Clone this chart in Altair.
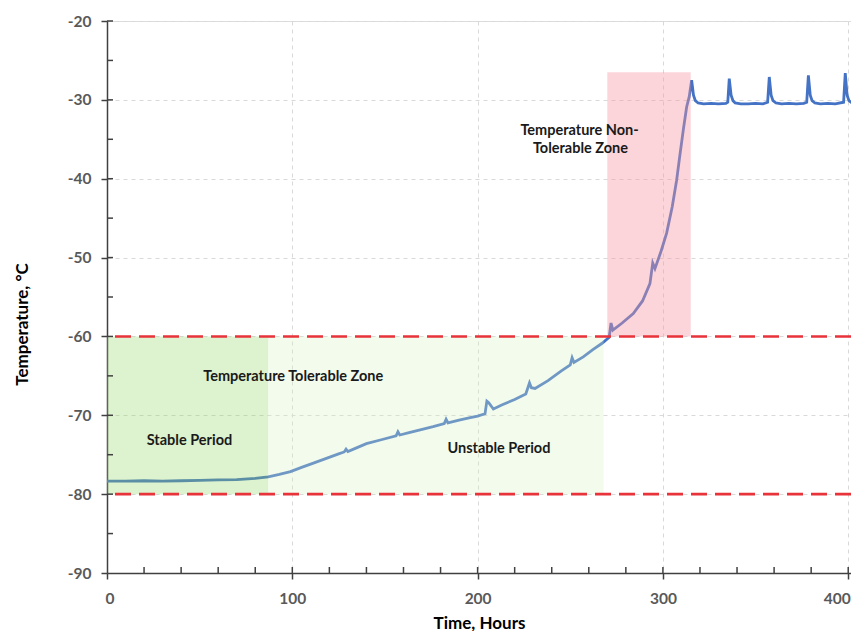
import altair as alt
import pandas as pd

# ---- data ----
hours = [0, 10, 20, 30, 40, 50, 60, 70, 80, 87, 93, 99, 105, 111, 118, 125, 128, 129, 130,
         134, 140, 148, 156, 157, 158, 163, 169, 176, 182, 183, 184, 190, 196, 200, 204, 205,
         206, 208.5, 213, 220, 226, 228, 229, 231, 238, 245, 250, 251, 252, 257, 262, 267,
         271, 272, 273, 278, 284, 289, 293, 294.5, 295.7, 299, 302, 305, 307.4, 309, 311,
         312.8, 314.2, 315.5, 316.5, 317.5, 319, 322, 326, 330, 334, 335, 335.8, 336.8,
         337.8, 339, 342, 346, 350, 354, 356.5, 357.4, 358.4, 359.4, 361, 364, 368, 372,
         376, 377.6, 378.5, 379.5, 380.5, 382, 385, 389, 393, 397.5, 398.4, 399.4, 400.4,
         402, 404]
temps = [-78.35, -78.35, -78.3, -78.35, -78.3, -78.25, -78.2, -78.15, -78.0, -77.8, -77.5,
         -77.15, -76.6, -76.1, -75.5, -74.9, -74.65, -74.3, -74.6, -74.2, -73.6, -73.1, -72.6,
         -72.1, -72.5, -72.2, -71.85, -71.45, -71.05, -70.5, -70.95, -70.6, -70.3, -70.1,
         -69.8, -68.2, -68.4, -69.2, -68.7, -68.0, -67.3, -65.9, -66.5, -66.6, -65.6, -64.4,
         -63.6, -62.7, -63.3, -62.6, -61.7, -60.9, -60.1, -58.3, -59.2, -58.3, -57.1, -55.5,
         -53.3, -50.7, -51.4, -49.2, -46.9, -43.6, -40.2, -37.3, -33.8, -30.9, -29.6, -27.5,
         -29.4, -30.1, -30.4, -30.5, -30.45, -30.5, -30.45, -30.3, -27.3, -29.4, -30.1,
         -30.4, -30.5, -30.5, -30.45, -30.5, -30.3, -27.1, -29.4, -30.1, -30.4, -30.5,
         -30.45, -30.5, -30.45, -30.3, -26.9, -29.4, -30.1, -30.4, -30.5, -30.45, -30.5,
         -30.3, -26.6, -29.4, -30.1, -30.4, -30.5]

zone_x = [0, 87, 270]
zone_x2 = [87, 268, 315]
zone_y = [-80, -80, -60]
zone_y2 = [-60, -60, -26.5]
zone_name = ["stable", "unstable", "nontolerable"]
zone_colors = ["#8ed45c", "#d7f2c3", "#f596a0"]
zone_opacity = [0.3, 0.3, 0.4]

limit_values = [-60, -80]

label_text = ["Temperature Tolerable Zone", "Stable Period", "Unstable Period",
              "Temperature Non-", "Tolerable Zone"]
label_x = [100.5, 44.5, 211.5, 255, 255.5]
label_y = [-65.1, -73.3, -74.3, -33.9, -36.2]

y_minor = [-85, -80, -75, -70, -65, -60, -55, -50, -45, -40, -35, -30, -25, -20]
x_minor = [20, 40, 60, 80, 100, 120, 140, 160, 180, 200, 220, 240, 260, 280, 300,
           320, 340, 360, 380, 400]

FONT = "Lato"
W, H = 744, 552

xscale = alt.Scale(domain=[0, 401.5], nice=False, zero=False)
yscale = alt.Scale(domain=[-90, -20], nice=False, zero=False)

line_df = pd.DataFrame({"h": hours, "t": temps})
zone_df = pd.DataFrame({"x": zone_x, "x2": zone_x2, "y": zone_y, "y2": zone_y2,
                        "z": zone_name, "o": zone_opacity})
lim_df = pd.DataFrame({"v": limit_values})
lab_df = pd.DataFrame({"x": label_x, "y": label_y, "text": label_text})
ym_df = pd.DataFrame({"v": y_minor})
xm_df = pd.DataFrame({"v": x_minor})

xaxis = alt.Axis(values=[0, 100, 200, 300, 400], grid=True, gridColor="#d9d9d9",
                 gridDash=[4, 4], gridWidth=1, domainColor="#404040", domainWidth=1.5,
                 tickColor="#404040", tickWidth=1.5, tickSize=6, labelFont=FONT,
                 labelFontWeight="bold", labelFontSize=15.5, labelColor="#595959",
                 labelPadding=12, labelExpr="'' + datum.value", labelFlush=3,
                 labelFlushOffset=2,
                 title="Time, Hours", titleFont=FONT, titleFontSize=17,
                 titleFontWeight="bold", titleColor="#000000", titleY=50,
                 titleBaseline="middle")
yaxis = alt.Axis(values=[-90, -80, -70, -60, -50, -40, -30, -20], grid=True,
                 gridColor="#d9d9d9", gridDash=[4, 4], gridWidth=1, domainColor="#404040",
                 domainWidth=1.5, tickColor="#404040", tickWidth=1.5, tickSize=6,
                 labelFont=FONT, labelFontWeight="bold", labelFontSize=15.5,
                 labelColor="#595959", labelPadding=10, labelExpr="'' + datum.value",
                 title="Temperature, °C",
                 titleFont=FONT, titleFontSize=17, titleFontWeight="bold",
                 titleColor="#000000", titleX=-85, titleY=303, titleAngle=-90,
                 titleBaseline="middle")

zones = alt.Chart(zone_df).mark_rect().encode(
    x=alt.X("x:Q", scale=xscale, axis=xaxis),
    x2="x2:Q",
    y=alt.Y("y:Q", scale=yscale, axis=yaxis),
    y2="y2:Q",
    color=alt.Color("z:N", scale=alt.Scale(domain=zone_name, range=zone_colors), legend=None),
    opacity=alt.Opacity("o:Q", scale=None, legend=None),
)

line = alt.Chart(line_df).mark_line(color="#4472c4", strokeWidth=2.8, clip=True).encode(
    x=alt.X("h:Q", scale=xscale),
    y=alt.Y("t:Q", scale=yscale),
)

limits = alt.Chart(lim_df).mark_rule(color="#e8333a", strokeWidth=2.6,
                                     strokeDash=[16, 8]).encode(
    y=alt.Y("v:Q", scale=yscale),
)

labels = alt.Chart(lab_df).mark_text(font=FONT, fontWeight="bold", fontSize=14.5,
                                     color="#1a1a1a").encode(
    x=alt.X("x:Q", scale=xscale),
    y=alt.Y("y:Q", scale=yscale),
    text="text:N",
)

yticks = alt.Chart(ym_df).mark_rule(color="#404040", strokeWidth=1.5).encode(
    y=alt.Y("v:Q", scale=yscale),
    x=alt.value(0),
    x2=alt.value(6),
)
xticks = alt.Chart(xm_df).mark_rule(color="#404040", strokeWidth=1.5).encode(
    x=alt.X("v:Q", scale=xscale),
    y=alt.value(H),
    y2=alt.value(H - 6),
)

chart = alt.layer(line, zones, limits, labels, yticks, xticks).properties(
    width=W, height=H,
    autosize=alt.AutoSizeParams(type="none"),
    padding={"left": 99, "top": 13, "right": 0, "bottom": 58},
).configure_view(stroke=None).configure(background="#ffffff")

chart.save("out.html", embed_options={"renderer": "svg", "actions": False})
